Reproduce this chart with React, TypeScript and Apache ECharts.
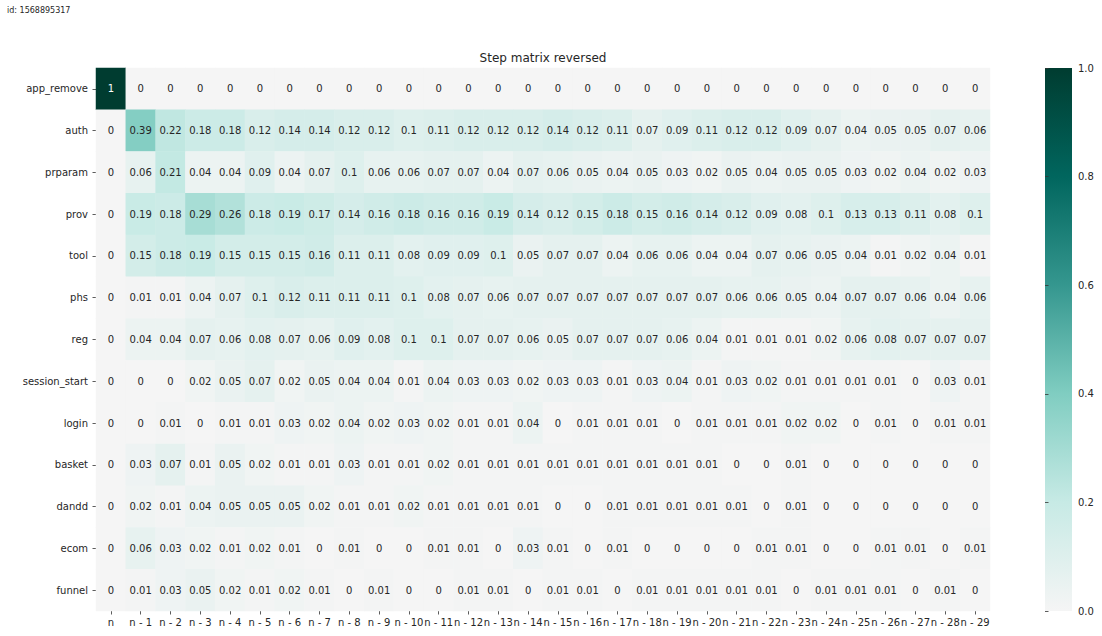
import React, { useEffect, useRef } from "react";
import * as echarts from "echarts";

const events = ["app_remove", "auth", "prparam", "prov", "tool", "phs", "reg", "session_start", "login", "basket", "dandd", "ecom", "funnel"];
const steps = ["n", "n - 1", "n - 2", "n - 3", "n - 4", "n - 5", "n - 6", "n - 7", "n - 8", "n - 9", "n - 10", "n - 11", "n - 12", "n - 13", "n - 14", "n - 15", "n - 16", "n - 17", "n - 18", "n - 19", "n - 20", "n - 21", "n - 22", "n - 23", "n - 24", "n - 25", "n - 26", "n - 27", "n - 28", "n - 29"];
const colorbarTicks = [0, 0.2, 0.4, 0.6, 0.8, 1.0];

const appRemove = [1, 0, 0, 0, 0, 0, 0, 0, 0, 0, 0, 0, 0, 0, 0, 0, 0, 0, 0, 0, 0, 0, 0, 0, 0, 0, 0, 0, 0, 0];
const auth = [0, 0.39, 0.22, 0.18, 0.18, 0.12, 0.14, 0.14, 0.12, 0.12, 0.1, 0.11, 0.12, 0.12, 0.12, 0.14, 0.12, 0.11, 0.07, 0.09, 0.11, 0.12, 0.12, 0.09, 0.07, 0.04, 0.05, 0.05, 0.07, 0.06];
const prparam = [0, 0.06, 0.21, 0.04, 0.04, 0.09, 0.04, 0.07, 0.1, 0.06, 0.06, 0.07, 0.07, 0.04, 0.07, 0.06, 0.05, 0.04, 0.05, 0.03, 0.02, 0.05, 0.04, 0.05, 0.05, 0.03, 0.02, 0.04, 0.02, 0.03];
const prov = [0, 0.19, 0.18, 0.29, 0.26, 0.18, 0.19, 0.17, 0.14, 0.16, 0.18, 0.16, 0.16, 0.19, 0.14, 0.12, 0.15, 0.18, 0.15, 0.16, 0.14, 0.12, 0.09, 0.08, 0.1, 0.13, 0.13, 0.11, 0.08, 0.1];
const tool = [0, 0.15, 0.18, 0.19, 0.15, 0.15, 0.15, 0.16, 0.11, 0.11, 0.08, 0.09, 0.09, 0.1, 0.05, 0.07, 0.07, 0.04, 0.06, 0.06, 0.04, 0.04, 0.07, 0.06, 0.05, 0.04, 0.01, 0.02, 0.04, 0.01];
const phs = [0, 0.01, 0.01, 0.04, 0.07, 0.1, 0.12, 0.11, 0.11, 0.11, 0.1, 0.08, 0.07, 0.06, 0.07, 0.07, 0.07, 0.07, 0.07, 0.07, 0.07, 0.06, 0.06, 0.05, 0.04, 0.07, 0.07, 0.06, 0.04, 0.06];
const reg = [0, 0.04, 0.04, 0.07, 0.06, 0.08, 0.07, 0.06, 0.09, 0.08, 0.1, 0.1, 0.07, 0.07, 0.06, 0.05, 0.07, 0.07, 0.07, 0.06, 0.04, 0.01, 0.01, 0.01, 0.02, 0.06, 0.08, 0.07, 0.07, 0.07];
const sessionStart = [0, 0, 0, 0.02, 0.05, 0.07, 0.02, 0.05, 0.04, 0.04, 0.01, 0.04, 0.03, 0.03, 0.02, 0.03, 0.03, 0.01, 0.03, 0.04, 0.01, 0.03, 0.02, 0.01, 0.01, 0.01, 0.01, 0, 0.03, 0.01];
const login = [0, 0, 0.01, 0, 0.01, 0.01, 0.03, 0.02, 0.04, 0.02, 0.03, 0.02, 0.01, 0.01, 0.04, 0, 0.01, 0.01, 0.01, 0, 0.01, 0.01, 0.01, 0.02, 0.02, 0, 0.01, 0, 0.01, 0.01];
const basket = [0, 0.03, 0.07, 0.01, 0.05, 0.02, 0.01, 0.01, 0.03, 0.01, 0.01, 0.02, 0.01, 0.01, 0.01, 0.01, 0.01, 0.01, 0.01, 0.01, 0.01, 0, 0, 0.01, 0, 0, 0, 0, 0, 0];
const dandd = [0, 0.02, 0.01, 0.04, 0.05, 0.05, 0.05, 0.02, 0.01, 0.01, 0.02, 0.01, 0.01, 0.01, 0.01, 0, 0, 0.01, 0.01, 0.01, 0.01, 0.01, 0, 0.01, 0, 0, 0, 0, 0, 0];
const ecom = [0, 0.06, 0.03, 0.02, 0.01, 0.02, 0.01, 0, 0.01, 0, 0, 0.01, 0.01, 0, 0.03, 0.01, 0, 0.01, 0, 0, 0, 0, 0.01, 0.01, 0, 0, 0.01, 0.01, 0, 0.01];
const funnel = [0, 0.01, 0.03, 0.05, 0.02, 0.01, 0.02, 0.01, 0, 0.01, 0, 0, 0.01, 0.01, 0, 0.01, 0.01, 0, 0.01, 0.01, 0.01, 0.01, 0.01, 0, 0.01, 0.01, 0.01, 0, 0.01, 0];

const matrix = [appRemove, auth, prparam, prov, tool, phs, reg, sessionStart, login, basket, dandd, ecom, funnel];

const palette = ["#f5f5f5", "#c7eae5", "#80cdc1", "#35978f", "#01665e", "#003c30"];
const FONT = "DejaVu Sans";
const TEXT = "#262626";

export default function App() {
  const ref = useRef<HTMLDivElement>(null);
  useEffect(() => {
    document.body.style.margin = "0";
    if (!ref.current) return;
    const chart = echarts.init(ref.current, null, { renderer: "svg" });
    const data = matrix.flatMap((vals, yi) =>
      vals.map((v, xi) => ({
        value: [xi, yi, v],
        label: v > 0.6 ? { color: "#ffffff" } : undefined,
      }))
    );
    const gradientStops = palette.map((c, i) => ({ offset: 1 - i / (palette.length - 1), color: c }));
    chart.setOption({
      animation: false,
      backgroundColor: "#ffffff",
      textStyle: { fontFamily: FONT },
      title: [
        {
          text: "Step matrix reversed",
          left: 543,
          top: 52,
          textAlign: "center",
          padding: 0,
          textStyle: { fontSize: 12, fontWeight: "normal", color: TEXT, fontFamily: FONT },
        },
        {
          text: "id: 1568895317",
          left: 7,
          top: 6,
          padding: 0,
          textStyle: { fontSize: 8, fontWeight: "normal", color: TEXT, fontFamily: FONT },
        },
      ],
      grid: [
        { left: 96, top: 68, width: 894, height: 543 },
        { left: 1045, top: 68, width: 27, height: 543 },
      ],
      xAxis: [
        {
          type: "category",
          data: steps,
          gridIndex: 0,
          position: "bottom",
          axisLine: { show: false },
          axisTick: { show: true, alignWithLabel: true, interval: 0, length: 3.5, lineStyle: { color: "#333", width: 0.8 } },
          axisLabel: { interval: 0, fontSize: 10, color: TEXT, margin: 6, fontFamily: FONT },
          splitLine: { show: false },
        },
        { type: "value", gridIndex: 1, show: false, min: 0, max: 1 },
      ],
      yAxis: [
        {
          type: "category",
          data: events,
          gridIndex: 0,
          inverse: true,
          axisLine: { show: false },
          axisTick: { show: true, alignWithLabel: true, interval: 0, length: 3.5, lineStyle: { color: "#333", width: 0.8 } },
          axisLabel: { interval: 0, fontSize: 10, color: TEXT, margin: 8, fontFamily: FONT },
          splitLine: { show: false },
        },
        {
          type: "value",
          gridIndex: 1,
          position: "right",
          min: colorbarTicks[0],
          max: colorbarTicks[colorbarTicks.length - 1],
          interval: 0.2,
          axisLine: { show: false },
          axisTick: { show: true, length: 3.5, lineStyle: { color: "#333", width: 0.8 } },
          axisLabel: { fontSize: 10, color: TEXT, margin: 6, fontFamily: FONT, formatter: (v: number) => v.toFixed(1) },
          splitLine: { show: false },
        },
      ],
      visualMap: {
        type: "continuous",
        show: false,
        min: 0,
        max: 1,
        seriesIndex: 0,
        dimension: 2,
        inRange: { color: palette },
      },
      graphic: [
        {
          type: "rect",
          left: 1045,
          top: 68,
          shape: { width: 27, height: 543 },
          style: {
            fill: new echarts.graphic.LinearGradient(0, 0, 0, 1, gradientStops.slice().reverse()),
          },
          silent: true,
        },
      ],
      series: [
        {
          type: "heatmap",
          xAxisIndex: 0,
          yAxisIndex: 0,
          data,
          label: {
            show: true,
            fontSize: 10,
            fontFamily: FONT,
            color: TEXT,
            formatter: (p: any) => String(p.value[2]),
          },
          itemStyle: { borderWidth: 0 },
          emphasis: { disabled: true },
        },
      ],
    });
    return () => chart.dispose();
  }, []);
  return <div ref={ref} style={{ width: 1102, height: 636 }} />;
}
